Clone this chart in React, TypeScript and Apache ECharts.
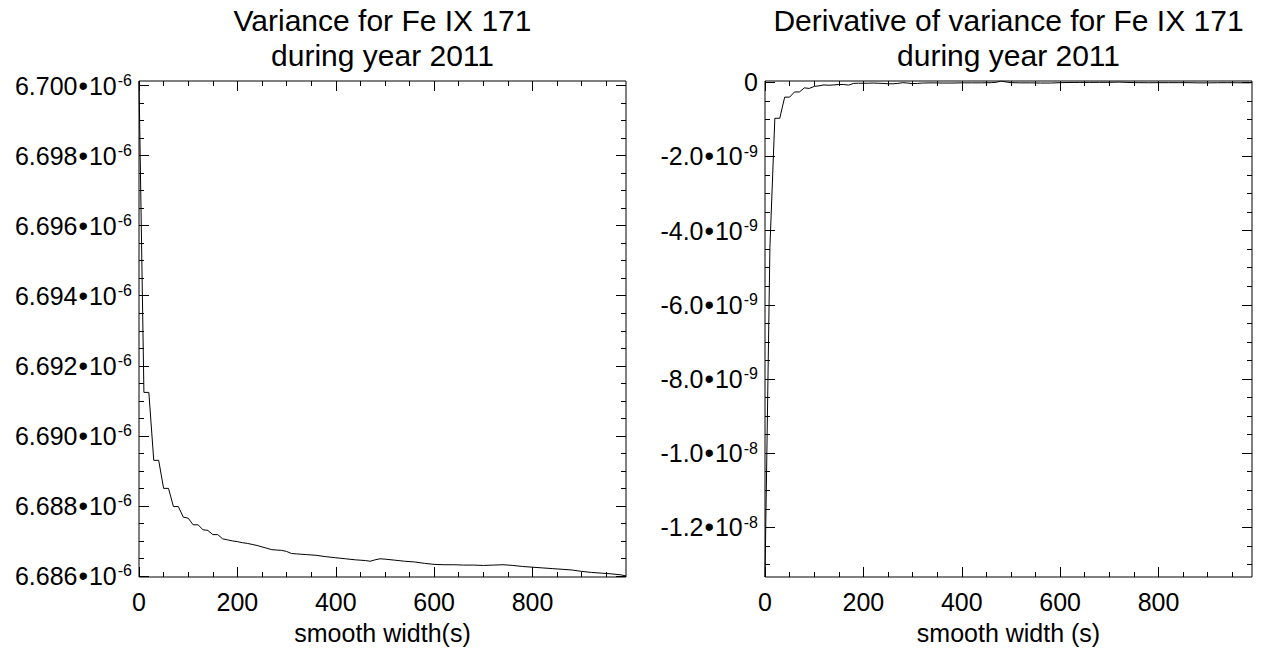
import React, { useEffect, useRef } from "react";
import * as echarts from "echarts";

const FONT = '"Liberation Sans", Arial, Helvetica, sans-serif';

// ---- data ----
const smoothWidth = [
  0, 10, 20, 30, 40, 50, 60, 70, 80, 90, 100, 110, 120, 130, 140, 150, 160, 170, 180, 190,
  200, 210, 220, 230, 240, 250, 260, 270, 280, 290, 300, 310, 320, 340, 360, 380, 400, 420,
  440, 460, 470, 480, 490, 500, 520, 540, 560, 580, 600, 620, 640, 660, 680, 700, 720, 740,
  760, 780, 800, 820, 840, 860, 880, 900, 920, 940, 960, 980, 990,
];

const variance = [
  6.70013e-6, 6.69124e-6, 6.69124e-6, 6.6893e-6, 6.6893e-6, 6.6885e-6, 6.6885e-6, 6.68798e-6,
  6.68798e-6, 6.68768e-6, 6.68765e-6, 6.68746e-6, 6.68746e-6, 6.68732e-6, 6.6873e-6, 6.68718e-6,
  6.68718e-6, 6.68706e-6, 6.68703e-6, 6.687e-6, 6.68698e-6, 6.68695e-6, 6.68693e-6, 6.6869e-6,
  6.68687e-6, 6.68683e-6, 6.68679e-6, 6.68675e-6, 6.68674e-6, 6.68673e-6, 6.6867e-6, 6.68664e-6,
  6.68663e-6, 6.68661e-6, 6.68659e-6, 6.68655e-6, 6.68652e-6, 6.68649e-6, 6.68646e-6, 6.68644e-6,
  6.68642e-6, 6.68646e-6, 6.68649e-6, 6.68648e-6, 6.68645e-6, 6.68642e-6, 6.6864e-6, 6.68636e-6,
  6.68633e-6, 6.68632e-6, 6.68632e-6, 6.68631e-6, 6.68631e-6, 6.6863e-6, 6.68631e-6, 6.68632e-6,
  6.6863e-6, 6.68627e-6, 6.68625e-6, 6.68623e-6, 6.68621e-6, 6.68619e-6, 6.68617e-6, 6.68613e-6,
  6.6861e-6, 6.68608e-6, 6.68606e-6, 6.68603e-6, 6.686e-6,
];

const derivative = [
  -13.34e-9, -4.45e-9, -0.97e-9, -0.97e-9, -0.4e-9, -0.4e-9, -0.26e-9, -0.26e-9, -0.15e-9,
  -0.165e-9, -0.11e-9, -0.095e-9, -0.07e-9, -0.08e-9, -0.07e-9, -0.06e-9, -0.06e-9, -0.075e-9,
  -0.03e-9, -0.025e-9, -0.025e-9, -0.025e-9, -0.02e-9, -0.025e-9, -0.03e-9, -0.04e-9, -0.04e-9,
  -0.03e-9, -0.01e-9, -0.02e-9, -0.035e-9, -0.03e-9, -0.02e-9, -0.015e-9, -0.02e-9, -0.02e-9,
  -0.015e-9, -0.015e-9, -0.015e-9, -0.01e-9, 0.0, 0.035e-9, 0.01e-9, -0.01e-9, -0.015e-9,
  -0.015e-9, -0.02e-9, -0.02e-9, -0.01e-9, -0.005e-9, -0.003e-9, -0.003e-9, -0.002e-9, 0.0,
  0.005e-9, -0.005e-9, -0.01e-9, -0.012e-9, -0.01e-9, -0.01e-9, -0.01e-9, -0.01e-9, -0.015e-9,
  -0.015e-9, -0.012e-9, -0.01e-9, -0.012e-9, -0.015e-9, -0.01e-9,
];

// ---- axes ----
const xMin = 0;
const xMax = 990;
const xTickValues = [0, 200, 400, 600, 800];
const xTickLabels = ["0", "200", "400", "600", "800"];
const xMinorTickValues = [50, 100, 150, 250, 300, 350, 450, 500, 550, 650, 700, 750, 850, 900, 950];

const leftYMin = 6.68597e-6;
const leftYMax = 6.70013e-6;
const leftYTickValues = [6.686e-6, 6.688e-6, 6.69e-6, 6.692e-6, 6.694e-6, 6.696e-6, 6.698e-6, 6.7e-6];
const leftYTickMantissas = ["6.686", "6.688", "6.690", "6.692", "6.694", "6.696", "6.698", "6.700"];
const leftYTickExponents = ["-6", "-6", "-6", "-6", "-6", "-6", "-6", "-6"];

const rightYMin = -13.34e-9;
const rightYMax = 0.035e-9;
const rightYTickValues = [0, -2e-9, -4e-9, -6e-9, -8e-9, -1.0e-8, -1.2e-8];
const rightYTickMantissas = ["0", "-2.0", "-4.0", "-6.0", "-8.0", "-1.0", "-1.2"];
const rightYTickExponents = ["", "-9", "-9", "-9", "-9", "-8", "-8"];

const leftTitle = "Variance for Fe IX 171\nduring year 2011";
const rightTitle = "Derivative of variance for Fe IX 171\nduring year 2011";
const leftXName = "smooth width(s)";
const rightXName = "smooth width (s)";

function minorBetween(majors: number[], lo: number, hi: number, step: number) {
  const out: number[] = [];
  const start = Math.ceil(lo / step - 1e-6);
  const end = Math.floor(hi / step + 1e-6);
  for (let k = start; k <= end; k++) {
    const v = k * step;
    if (!majors.some((m) => Math.abs(m - v) < step * 1e-3)) out.push(v);
  }
  return out;
}

const GRID_TOP = 81;
const GRID_H = 496;
const GRID_W = 487;
const LEFT_X = 139;
const RIGHT_X = 765;

function makeLabel(mants: string[], exps: string[], ticks: number[]) {
  return (v: number) => {
    let idx = 0;
    let best = Infinity;
    ticks.forEach((t, i) => {
      const d = Math.abs(t - v);
      if (d < best) {
        best = d;
        idx = i;
      }
    });
    const m = mants[idx];
    const e = exps[idx];
    if (!e) return `{m|${m}}`;
    return `{m|${m}}{b|\u2022}{m|10}{s|${e}}`;
  };
}

const rich = {
  m: { fontSize: 25, fontFamily: FONT, color: "#000", lineHeight: 26 },
  b: { fontSize: 27, fontFamily: FONT, color: "#000", lineHeight: 26, padding: [0, 1, 0, 1] },
  s: { fontSize: 16, fontFamily: FONT, color: "#000", verticalAlign: "top", lineHeight: 14, padding: [0, 0, 0, 1] },
};

const noLine = { show: false, onZero: false };

function xAxes(grid: number, name: string) {
  const base = {
    gridIndex: grid,
    type: "value",
    min: xMin,
    max: xMax,
    axisLine: noLine,
    splitLine: { show: false },
  };
  return [
    {
      ...base,
      position: "bottom",
      name,
      nameLocation: "middle",
      nameGap: 43,
      nameTextStyle: { fontSize: 25, fontFamily: FONT, color: "#000" },
      axisTick: { show: true, inside: true, length: 10, customValues: xTickValues, lineStyle: { color: "#000", width: 1 } },
      axisLabel: {
        show: true,
        customValues: xTickValues,
        margin: 12,
        fontSize: 25,
        fontFamily: FONT,
        color: "#000",
        formatter: (v: number) => xTickLabels[xTickValues.indexOf(v)] ?? "",
      },
    },
    {
      ...base,
      position: "bottom",
      axisTick: { show: true, inside: true, length: 5, customValues: xMinorTickValues, lineStyle: { color: "#000", width: 1 } },
      axisLabel: { show: false },
    },
    {
      ...base,
      position: "top",
      axisTick: { show: true, inside: true, length: 10, customValues: xTickValues, lineStyle: { color: "#000", width: 1 } },
      axisLabel: { show: false },
    },
    {
      ...base,
      position: "top",
      axisTick: { show: true, inside: true, length: 5, customValues: xMinorTickValues, lineStyle: { color: "#000", width: 1 } },
      axisLabel: { show: false },
    },
  ];
}

function yAxes(grid: number, min: number, max: number, ticks: number[], minor: number[], fmt: (v: number) => string) {
  const base = {
    gridIndex: grid,
    type: "value",
    min,
    max,
    scale: true,
    axisLine: noLine,
    splitLine: { show: false },
  };
  return [
    {
      ...base,
      position: "left",
      axisTick: { show: true, inside: true, length: 10, customValues: ticks, lineStyle: { color: "#000", width: 1 } },
      axisLabel: { show: true, customValues: ticks, margin: 7, formatter: fmt, rich },
    },
    {
      ...base,
      position: "left",
      axisTick: { show: true, inside: true, length: 5, customValues: minor, lineStyle: { color: "#000", width: 1 } },
      axisLabel: { show: false },
    },
    {
      ...base,
      position: "right",
      axisTick: { show: true, inside: true, length: 10, customValues: ticks, lineStyle: { color: "#000", width: 1 } },
      axisLabel: { show: false },
    },
    {
      ...base,
      position: "right",
      axisTick: { show: true, inside: true, length: 5, customValues: minor, lineStyle: { color: "#000", width: 1 } },
      axisLabel: { show: false },
    },
  ];
}

function titleText(text: string, cx: number) {
  return {
    type: "text",
    x: cx,
    y: 3,
    style: {
      text,
      align: "center",
      verticalAlign: "top",
      textAlign: "center",
      textVerticalAlign: "top",
      fill: "#000",
      font: `30px ${FONT}`,
      lineHeight: 35,
    },
  };
}

export default function App() {
  const ref = useRef<HTMLDivElement>(null);
  useEffect(() => {
    if (!ref.current) return;
    const chart = echarts.init(ref.current, undefined, { renderer: "svg" });
    const leftMinor = minorBetween(leftYTickValues, leftYMin, leftYMax, 0.5e-9);
    const rightMinor = minorBetween(rightYTickValues, rightYMin, rightYMax, 0.5e-9);
    const pairs = (ys: number[]) => smoothWidth.map((x, i) => [x, ys[i]]);
    chart.setOption({
      animation: false,
      backgroundColor: "#fff",
      grid: [
        { left: LEFT_X, top: GRID_TOP, width: GRID_W, height: GRID_H, show: true, borderColor: "#000", borderWidth: 1, backgroundColor: "transparent" },
        { left: RIGHT_X, top: GRID_TOP, width: GRID_W, height: GRID_H, show: true, borderColor: "#000", borderWidth: 1, backgroundColor: "transparent" },
      ],
      xAxis: [...xAxes(0, leftXName), ...xAxes(1, rightXName)],
      yAxis: [
        ...yAxes(0, leftYMin, leftYMax, leftYTickValues, leftMinor, makeLabel(leftYTickMantissas, leftYTickExponents, leftYTickValues)),
        ...yAxes(1, rightYMin, rightYMax, rightYTickValues, rightMinor, makeLabel(rightYTickMantissas, rightYTickExponents, rightYTickValues)),
      ],
      graphic: [titleText(leftTitle, LEFT_X + GRID_W / 2), titleText(rightTitle, RIGHT_X + GRID_W / 2)],
      series: [
        {
          type: "line",
          xAxisIndex: 0,
          yAxisIndex: 0,
          data: pairs(variance),
          showSymbol: false,
          symbol: "none",
          silent: true,
          lineStyle: { color: "#000", width: 1 },
        },
        {
          type: "line",
          xAxisIndex: 4,
          yAxisIndex: 4,
          data: pairs(derivative),
          showSymbol: false,
          symbol: "none",
          silent: true,
          lineStyle: { color: "#000", width: 1 },
        },
      ],
    });
    return () => chart.dispose();
  }, []);
  return <div ref={ref} style={{ position: "fixed", left: 0, top: 0, width: 1275, height: 651, background: "#fff" }} />;
}
